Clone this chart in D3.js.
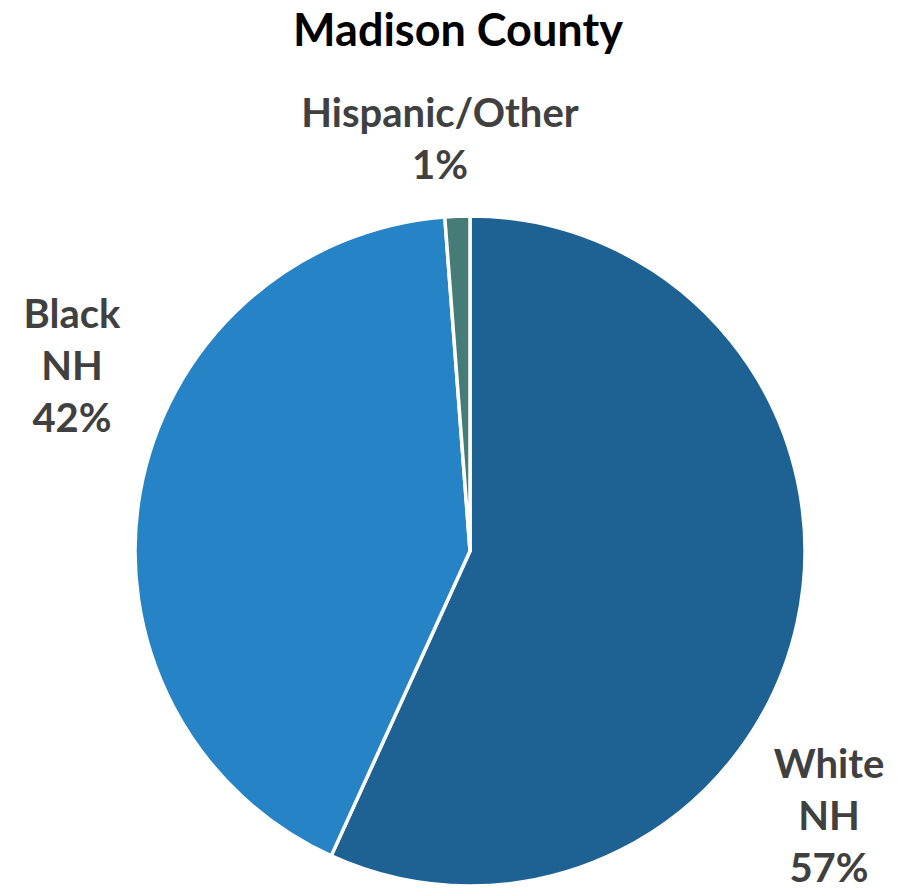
<!DOCTYPE html>
<html>
<head>
<meta charset="utf-8">
<script src="https://cdn.jsdelivr.net/npm/d3@7"></script>
<style>
  html, body { margin: 0; padding: 0; background: #fff; }
  svg text { font-family: Lato, "Open Sans", sans-serif; font-weight: bold; }
</style>
</head>
<body>
<svg id="chart"></svg>
<script>
var categories = ['White NH', 'Black NH', 'Hispanic/Other'];
var values = [56.8, 42.0, 1.2];
var pctLabels = ['57%', '42%', '1%'];
var colors = ['#1e6294', '#2683c6', '#467c78'];

var width = 897,
    height = 896,
    cx = 470,
    cy = 551,
    r = 335;

var svg = d3.select('#chart').attr('width', width).attr('height', height);

function translate(x, y){
  return 'translate(' + x + ',' + y + ')';
}

svg.append('text')
  .attr('x', 458)
  .attr('y', 46)
  .attr('text-anchor', 'middle')
  .attr('fill', '#000')
  .style('font-size', '45px')
  .text('Madison County');

var pie = d3.pie().sort(null).value(function(d){ return d; });
var arc = d3.arc().innerRadius(0).outerRadius(r);

var g = svg.append('g').attr('transform', translate(cx, cy));

g.selectAll('path')
  .data(pie(values))
  .enter()
    .append('path')
    .attr('d', arc)
    .attr('fill', function(d, i){ return colors[i]; })
    .attr('stroke', '#fff')
    .attr('stroke-width', 3.5)
    .attr('stroke-linejoin', 'round');

// label positions (outside the pie, like the original)
var labelPos = [
  {x: 829, y: 778},
  {x: 72, y: 328},
  {x: 440, y: 127}
];

categories.forEach(function(c, i){
  var lines = c === 'Hispanic/Other' ? [c] : c.split(' ');
  lines.push(pctLabels[i]);
  var t = svg.append('text')
    .attr('text-anchor', 'middle')
    .attr('fill', '#404040')
    .style('font-size', '40px');
  lines.forEach(function(l, k){
    t.append('tspan')
      .attr('x', labelPos[i].x)
      .attr('y', labelPos[i].y + k * 52)
      .text(l);
  });
});
</script>
</body>
</html>
